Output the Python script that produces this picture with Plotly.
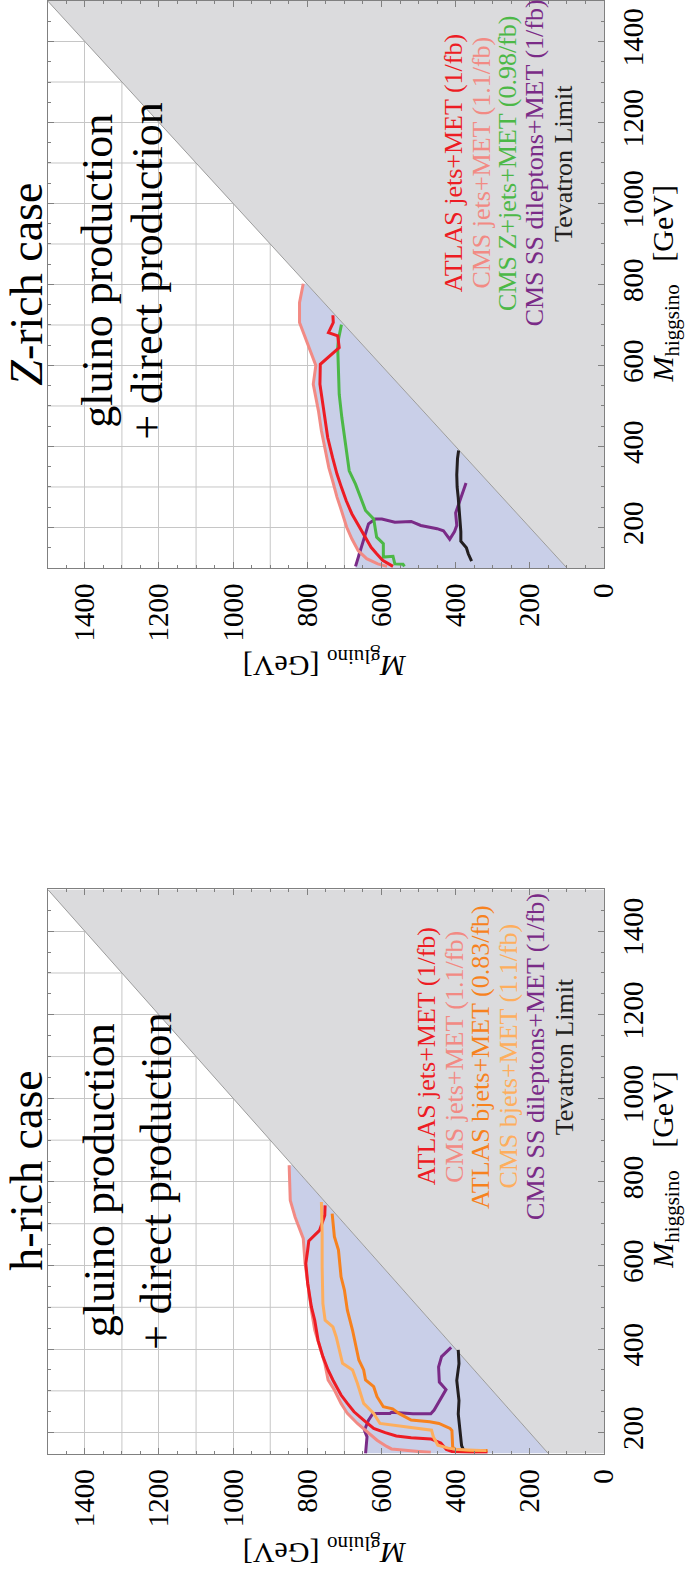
import plotly.graph_objects as go

# ---------------- data: (M_higgsino, M_gluino) in GeV ----------------
# Z-rich case
z_atlas_jets_h = [724, 706, 681, 673, 644, 623, 603, 554, 480, 422, 373, 332, 299, 266, 234, 209, 176, 151, 135, 119, 104]
z_atlas_jets_g = [731, 730, 743, 718, 714, 740, 765, 766, 755, 745, 732, 720, 708, 695, 680, 665, 645, 628, 613, 597, 569]
z_cms_jets_h = [802, 755, 706, 669, 619, 600, 554, 488, 439, 398, 348, 316, 275, 242, 201, 172, 143, 123, 110, 104]
z_cms_jets_g = [811, 821, 821, 806, 784, 777, 784, 770, 762, 753, 742, 732, 720, 708, 694, 680, 663, 640, 610, 585]
z_cms_zjets_h = [701, 665, 644, 587, 529, 472, 414, 340, 307, 275, 242, 221, 176, 160, 127, 129, 110, 109, 104]
z_cms_zjets_g = [708, 716, 718, 717, 714, 707, 698, 687, 670, 657, 643, 621, 613, 595, 595, 569, 564, 542, 538]
z_cms_ss_h = [104, 143, 184, 209, 221, 221, 213, 215, 205, 197, 192, 171, 190, 205, 236, 298, 310]
z_cms_ss_g = [670, 657, 644, 635, 617, 599, 564, 520, 494, 450, 433, 416, 403, 397, 400, 375, 372]
z_tevatron_h = [390, 370, 330, 300, 273, 216, 190, 166, 150, 135, 117]
z_tevatron_g = [392, 395, 397, 396, 393, 388, 386, 386, 371, 366, 357]

# h-rich case
h_atlas_jets_h = [744, 720, 684, 659, 637, 605, 557, 501, 469, 421, 382, 350, 326, 290, 270, 250, 230, 210, 200, 192, 188, 185, 175, 160, 155, 153, 153]
h_atlas_jets_g = [752, 753, 767, 796, 799, 804, 799, 789, 780, 771, 758, 744, 731, 709, 692, 674, 648, 621, 590, 560, 520, 467, 440, 425, 410, 362, 314]
h_cms_jets_h = [840, 756, 716, 684, 665, 605, 541, 493, 445, 406, 366, 326, 302, 270, 246, 222, 202, 182, 167, 161, 159, 155, 155, 153]
h_cms_jets_g = [849, 846, 833, 819, 811, 806, 797, 789, 780, 767, 753, 744, 727, 709, 692, 665, 639, 612, 586, 573, 551, 515, 499, 467]
h_atlas_bjets_h = [724, 669, 637, 573, 541, 493, 445, 414, 374, 350, 326, 310, 286, 262, 257, 245, 230, 226, 222, 210, 205, 165, 160, 157, 157]
h_atlas_bjets_g = [733, 727, 716, 709, 700, 692, 678, 670, 661, 648, 643, 621, 612, 595, 570, 551, 520, 470, 445, 415, 410, 408, 400, 362, 314]
h_cms_bjets_h = [752, 676, 597, 509, 469, 453, 429, 398, 366, 350, 318, 270, 246, 222, 218, 212, 206, 190, 170, 163, 160, 157]
h_cms_bjets_g = [762, 760, 760, 758, 752, 731, 722, 714, 705, 678, 665, 648, 621, 604, 570, 515, 465, 460, 448, 420, 397, 318]
h_cms_ss_h = [150, 190, 206, 230, 246, 246, 249, 245, 245, 254, 303, 321, 357, 382, 404]
h_cms_ss_g = [643, 639, 646, 635, 623, 577, 573, 515, 467, 458, 426, 444, 446, 438, 412]
h_tevatron_h = [398, 365, 325, 277, 245, 197, 189, 169, 153]
h_tevatron_g = [393, 391, 397, 391, 393, 387, 388, 384, 376]

# labelled ticks every 200 GeV, grid every 100 GeV, small ticks every 50 GeV
gluino_ticks = list(range(0, 1401, 200))
higgsino_ticks = list(range(200, 1401, 200))
grid_step = 100
small_step = 50

z_legend = [("ATLAS jets+MET (1/fb)", "#ed1c24"),
            ("CMS jets+MET (1.1/fb)", "#f28a84"),
            ("CMS Z+jets+MET (0.98/fb)", "#4cb847"),
            ("CMS SS dileptons+MET (1/fb)", "#7a2b87"),
            ("Tevatron Limit", "#231f20")]
h_legend = [("ATLAS jets+MET (1/fb)", "#ed1c24"),
            ("CMS jets+MET (1.1/fb)", "#f28a84"),
            ("ATLAS bjets+MET (0.83/fb)", "#f7821e"),
            ("CMS bjets+MET (1.1/fb)", "#fdae5e"),
            ("CMS SS dileptons+MET (1/fb)", "#7a2b87"),
            ("Tevatron Limit", "#231f20")]

# ---------------- styling ----------------
SERIF = "Liberation Serif"
FRAME = "#808080"
GRID = "#c6c6c6"
BLUE = "#c9cfe8"
GRAY = "#dbdbdd"
GMAX = 1500
X_DOM = [0.0701, 0.8869]
Y_DOM_TOP = [0.6407, 1.0]
Y_DOM_BOT = [0.0795, 0.4370]

fig = go.Figure()


def excluded_region(low_h, low_g, high_h, high_g, cut, hmin):
    """Blue band: lower curve below `cut`, upper curve above it, closed by the diagonal."""
    pts = [(hmin, low_g[0])]
    pts += [(h, g) for h, g in zip(low_h, low_g) if h < cut]
    pts += [(h, g) for h, g in reversed(list(zip(high_h, high_g))) if h >= cut]
    top_h = pts[-1][0]
    pts += [(top_h, top_h), (hmin, hmin), (hmin, low_g[0])]
    hs = [p[0] for p in pts]
    gs = [p[1] for p in pts]
    return gs, hs


def add_panel(xa, ya, hmin, curves, region):
    gs, hs = region
    fig.add_trace(go.Scatter(x=gs, y=hs, mode="lines", fill="toself", fillcolor=BLUE,
                             line=dict(width=0), hoverinfo="skip", showlegend=False,
                             xaxis=xa, yaxis=ya))
    # kinematically forbidden: M_gluino < M_higgsino
    fig.add_trace(go.Scatter(x=[hmin, GMAX, 0, 0, hmin], y=[hmin, GMAX, GMAX, hmin, hmin],
                             mode="lines", fill="toself", fillcolor=GRAY,
                             line=dict(width=0), hoverinfo="skip", showlegend=False,
                             xaxis=xa, yaxis=ya))
    fig.add_trace(go.Scatter(x=[hmin, GMAX], y=[hmin, GMAX], mode="lines",
                             line=dict(color="#9c9c9c", width=1), hoverinfo="skip",
                             showlegend=False, xaxis=xa, yaxis=ya))
    for h, g, color in curves:
        fig.add_trace(go.Scatter(x=g, y=h, mode="lines", line=dict(color=color, width=3),
                                 showlegend=False, xaxis=xa, yaxis=ya))


add_panel("x", "y", 100,
          [(z_cms_ss_h, z_cms_ss_g, "#7a2b87"),
           (z_tevatron_h, z_tevatron_g, "#231f20"),
           (z_cms_zjets_h, z_cms_zjets_g, "#4cb847"),
           (z_cms_jets_h, z_cms_jets_g, "#f28a84"),
           (z_atlas_jets_h, z_atlas_jets_g, "#ed1c24")],
          excluded_region(z_cms_ss_h, z_cms_ss_g, z_cms_jets_h, z_cms_jets_g, 143, 100))

add_panel("x2", "y2", 150,
          [(h_cms_ss_h, h_cms_ss_g, "#7a2b87"),
           (h_tevatron_h, h_tevatron_g, "#231f20"),
           (h_cms_jets_h, h_cms_jets_g, "#f28a84"),
           (h_atlas_jets_h, h_atlas_jets_g, "#ed1c24"),
           (h_atlas_bjets_h, h_atlas_bjets_g, "#f7821e"),
           (h_cms_bjets_h, h_cms_bjets_g, "#fdae5e")],
          excluded_region(h_cms_ss_h, h_cms_ss_g, h_cms_jets_h, h_cms_jets_g, 215, 150))


def axis_common(vals, lo, hi):
    small = [v for v in range(0, GMAX + 1, small_step) if lo <= v <= hi and v % 200]
    return dict(tickmode="array", tickvals=vals, ticktext=[str(v) for v in vals],
                ticks="inside", ticklen=6, tickwidth=1, tickcolor=FRAME,
                minor=dict(tickmode="array", tickvals=small, ticks="inside", ticklen=3,
                           tickwidth=1, tickcolor=FRAME, showgrid=False),
                showgrid=True, gridcolor=GRID, gridwidth=1,
                showline=True, linecolor=FRAME, linewidth=1, mirror="ticks",
                zeroline=False, tickangle=-90, ticklabelstandoff=3,
                tickfont=dict(family=SERIF, size=29, color="black"))


fig.update_layout(
    width=696, height=1579,
    margin=dict(l=0, r=0, t=0, b=0),
    paper_bgcolor="white", plot_bgcolor="white",
    xaxis=dict(domain=X_DOM, range=[GMAX, 0], anchor="y",
               **axis_common(gluino_ticks, 0, GMAX)),
    yaxis=dict(domain=Y_DOM_TOP, range=[100, 1500], anchor="x", side="right",
               **axis_common(higgsino_ticks, 100, 1500)),
    xaxis2=dict(domain=X_DOM, range=[GMAX, 0], anchor="y2",
                **axis_common(gluino_ticks, 0, GMAX)),
    yaxis2=dict(domain=Y_DOM_BOT, range=[150, 1500], anchor="x2", side="right",
                **axis_common(higgsino_ticks, 150, 1500)),
)

# grid lines at the odd hundreds (the even ones come with the labelled ticks)
shapes = []
for xr, yr, hmin in [("x", "y", 100), ("x2", "y2", 150)]:
    for v in range(grid_step, GMAX, 2 * grid_step):
        shapes.append(dict(type="line", xref=xr, yref=yr + " domain", x0=v, x1=v, y0=0, y1=1,
                           line=dict(color=GRID, width=1), layer="below"))
        if v > hmin:
            shapes.append(dict(type="line", xref=xr + " domain", yref=yr, x0=0, x1=1, y0=v, y1=v,
                               line=dict(color=GRID, width=1), layer="below"))

annotations = []


def note(text, x, y, xref, yref, size, color="black", angle=-90):
    annotations.append(dict(text=text, x=x, y=y, xref=xref, yref=yref,
                            xanchor="center", yanchor="middle", showarrow=False,
                            textangle=angle, font=dict(family=SERIF, size=size, color=color)))


# panel titles
note("<i>Z</i>-rich case", 0.0388, 0.8205, "paper", "paper", 46)
note("h-rich case", 0.0388, 0.2590, "paper", "paper", 46)

# production labels
note("gluino production", 1366, 835, "x", "y", 44)
note("+ direct production", 1231, 835, "x", "y", 44)
note("gluino production", 1360, 803, "x2", "y2", 44)
note("+ direct production", 1207, 803, "x2", "y2", 44)

# colored key text
for (txt, col), g in zip(z_legend, [404, 330, 259, 185, 108]):
    note(txt, g, 1100, "x", "y", 26, col)
for (txt, col), g in zip(h_legend, [478, 404, 333, 256, 185, 106]):
    note(txt, g, 1100, "x2", "y2", 26, col)

# axis titles
for ytop, ymid in [(0.5795, 0.8205), (0.0177, 0.2590)]:
    note("<i>M</i><sub>gluino</sub> [GeV]", 0.477, ytop, "paper", "paper", 30, angle=180)
    note("<i>M</i><sub>higgsino</sub>\u00a0\u00a0\u00a0[GeV]", 0.977, ymid, "paper", "paper", 30)

fig.update_layout(annotations=annotations, shapes=shapes)

fig.write_html("out.html")
